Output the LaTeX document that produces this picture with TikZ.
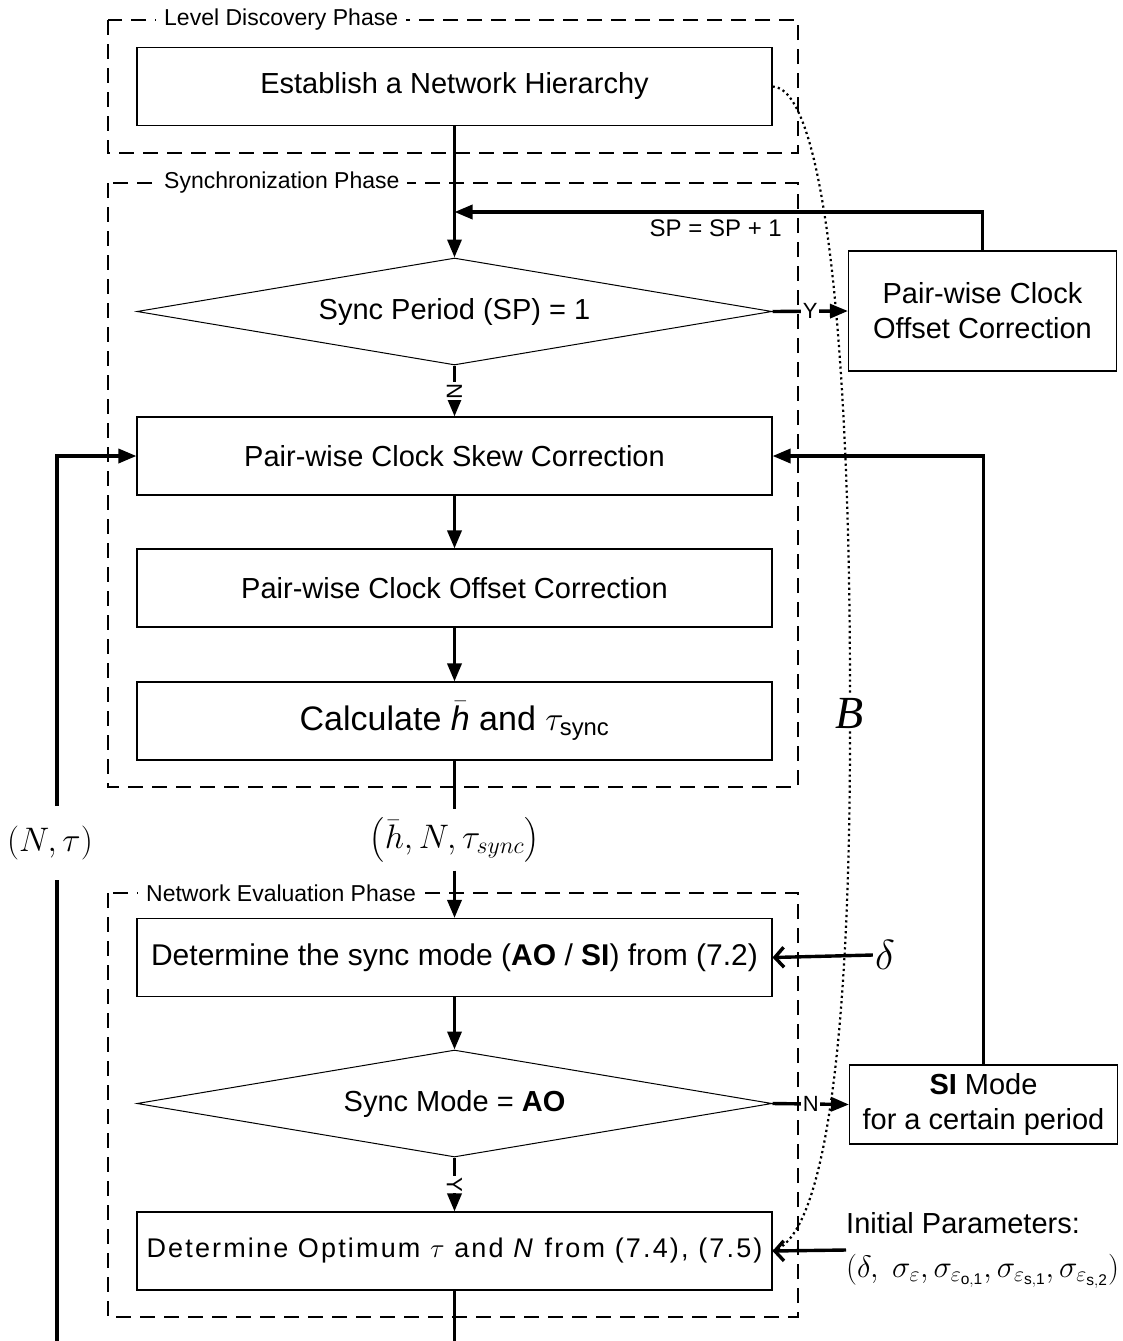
\RequirePackage{fix-cm}
\documentclass[tikz,border=0pt]{standalone}
\usepackage{amsmath}
\usepackage{fontspec}
\setmainfont{Liberation Sans}
\newfontfamily\serifface{Liberation Serif}
\newfontfamily\trackedsans[LetterSpace=8]{Liberation Sans}
\usetikzlibrary{arrows.meta,shapes.geometric}

\tikzset{
  procbox/.style={draw, line width=1.1pt, minimum width=635pt, minimum height=78pt,
    inner sep=0pt, fill=white, font=\fontsize{29}{34}\selectfont},
  sidebox/.style={draw, line width=1.1pt, minimum width=268pt, minimum height=79pt,
    inner sep=0pt, align=center, fill=white, font=\fontsize{29}{35}\selectfont},
  decision/.style={diamond, draw, line width=1pt, minimum width=635pt, minimum height=107pt,
    inner sep=0pt, aspect=5.9, fill=white, font=\fontsize{29}{34}\selectfont},
  phase/.style={draw, dash pattern=on 15pt off 9pt, line width=2pt},
  phaselabel/.style={fill=white, inner xsep=8pt, inner ysep=2pt, anchor=west,
    font=\fontsize{23}{27}\selectfont},
  flow/.style={line width=3.4pt, -{Triangle[length=18pt,width=14pt]}},
  plainflow/.style={line width=3.4pt},
  inflow/.style={line width=3.4pt, -{Straight Barb[length=9pt,width=20pt]}},
  branch/.style={fill=white, inner sep=1.5pt, font=\fontsize{22}{26}\selectfont},
  mathlabel/.style={inner sep=2pt, font=\fontsize{34}{40}\selectfont},
}

\begin{document}
\begin{tikzpicture}[x=1pt,y=-1pt]
\useasboundingbox (0,0) rectangle (1122,1341);

% phase frames
\draw[phase] (108,20) rectangle (798,153);
\draw[phase] (108,183) rectangle (798,787);
\draw[phase] (108,893) rectangle (798,1317);
\node[phaselabel] (lvl) at (156,20) {Level Discovery Phase};
\node[phaselabel] (syn) at (156,183) {Synchronization Phase};
\node[phaselabel] (net) at (138,893) {Network Evaluation Phase};

% process steps
\node[procbox] (est) at (454.5,86.5) {Establish a Network Hierarchy};
\node[decision] (d1) at (454.5,311.5) {Sync Period (SP) = 1};
\node[sidebox, minimum height=120pt] (ofs1) at (982.5,311) {Pair-wise Clock\\Offset Correction};
\node[procbox] (skew) at (454.5,456) {Pair-wise Clock Skew Correction};
\node[procbox] (ofs2) at (454.5,588) {Pair-wise Clock Offset Correction};
\node[procbox] (calc) at (454.5,721) {\fontsize{34}{38}\selectfont Calculate $\bar{\textit{h}}$ and $\tau_{\text{sync}}$};
\node[mathlabel, inner ysep=8pt] (tup) at (454.5,840) {$\left(\bar{h},N,\tau_{sync}\right)$};
\node[procbox, font=\fontsize{30}{35}\selectfont] (det1) at (454.5,957.5) {Determine the sync mode (\textbf{AO} / \textbf{SI}) from (7.2)};
\node[decision] (d2) at (454.5,1103.5) {Sync Mode = \textbf{AO}};
\node[sidebox] (si) at (983.5,1104.5) {\textbf{SI} Mode\\for a certain period};
\node[procbox, font=\fontsize{27}{32}\selectfont\trackedsans] (det2) at (454.5,1251) {Determine Optimum $\tau$ and \textit{N} from (7.4), (7.5)};

% external inputs
\node[inner sep=2pt, font=\fontsize{42}{48}\selectfont] (dl) at (885,955) {$\delta$};
\node[anchor=west, align=left, inner sep=0pt, font=\fontsize{29}{46}\selectfont] (ip) at (846,1250)
  {Initial Parameters:\\[-2pt]\fontsize{31}{36}\selectfont$(\delta,\ \sigma_{\varepsilon},\sigma_{\varepsilon_{\mathrm{o,1}}},\sigma_{\varepsilon_{\mathrm{s,1}}},\sigma_{\varepsilon_{\mathrm{s,2}}})$};
\node[mathlabel, inner ysep=10pt] (nt) at (50,843) {$(N,\tau)$};
\node[inner sep=3pt, font=\fontsize{46}{50}\selectfont\serifface\itshape] (bB) at (850,713) {B};

\coordinate (fb) at (454.5,212);
\coordinate (lb) at (57,1341);
\coordinate (mb) at (454.5,1341);
\coordinate (ntb) at (57,880);
\coordinate (ntt) at (57,806);

% main flow
\draw[plainflow] (est.south) -- (fb);
\draw[flow] (fb) -- (d1.north);
\draw[flow] (ofs1.north) |- (fb);
\node[font=\fontsize{24}{28}\selectfont, anchor=north east, inner sep=0pt] (inc) at (782,220) {SP = SP + 1};
\draw[flow] (d1.east) -- node[branch] {Y} (ofs1.west);
\draw[flow] (d1.south) -- node[branch, rotate=-90] {N} (skew.north);
\draw[flow] (skew) -- (ofs2);
\draw[flow] (ofs2) -- (calc);
\draw[plainflow] (calc.south) -- (tup);
\draw[flow] (tup) -- (det1.north);
\draw[flow] (det1) -- (d2.north);
\draw[flow] (d2.east) -- node[branch] {N} (si.west);
\draw[flow] (si.north) |- (skew.east);
\draw[flow] (d2.south) -- node[branch, rotate=-90] {Y} (det2.north);
\draw[plainflow] (det2.south) -- (mb);
\draw[plainflow] (lb) -- (ntb);
\draw[flow] (ntt) |- (skew.west);

% inputs
\draw[inflow] (dl.west) -- (det1.east);
\draw[inflow] (ip.west) -- (det2.east);

% hierarchy feed-through
\draw[line width=2.2pt, dash pattern=on 2.2pt off 3.2pt]
  (est.east) .. controls (825,88) and (850,350) .. (bB)
  .. controls (850,1060) and (822,1238) .. (det2.east);
\end{tikzpicture}
\end{document}
